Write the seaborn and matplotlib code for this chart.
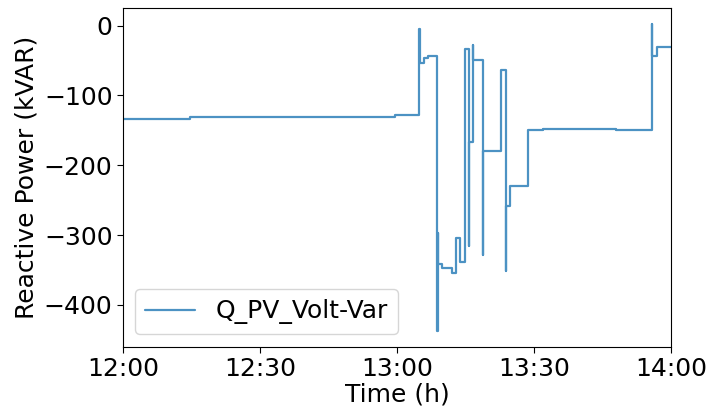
import numpy as np
import pandas as pd
import matplotlib
matplotlib.use("Agg")
import matplotlib.pyplot as plt
import matplotlib.dates as mdates
import seaborn as sns

# Breakpoints of the step-like reactive power series (time, kVAR)
times = [
    "12:00:00", "12:14:40", "12:59:40", "13:04:50", "13:04:56", "13:05:50",
    "13:06:50", "13:08:50", "13:08:56", "13:09:00", "13:09:03", "13:09:50",
    "13:12:00", "13:12:55", "13:13:50", "13:14:55", "13:15:48", "13:15:52",
    "13:16:35", "13:16:40", "13:18:48", "13:18:53", "13:22:48", "13:23:54",
    "13:23:58", "13:24:42", "13:28:45", "13:32:00", "13:42:00", "13:48:00",
    "13:55:48", "13:55:54", "13:56:54", "14:00:00",
]
values = [
    -133, -131, -128, -5, -53, -46,
    -43, -438, -297, -338, -342, -347,
    -354, -304, -338, -33, -316, -166,
    -27, -49, -328, -179, -64, -352,
    -259, -229, -150, -148, -148, -149,
    3, -43, -30, -30,
]
series_name = "Q_PV_Volt-Var"

df = pd.DataFrame({
    "time": pd.to_datetime(["2023-01-01 " + t for t in times]),
    "Q": values,
    "series": series_name,
})

sns.set_style("white", rc={"text.color": "black", "axes.labelcolor": "black",
                           "xtick.color": "black", "ytick.color": "black",
                           "axes.edgecolor": "black"})
plt.rcParams["font.family"] = ["DejaVu Sans"]

fig = plt.figure(figsize=(7.08, 4.09), dpi=100)
ax = fig.add_axes([0.1737, 0.152, 0.774, 0.828])

sns.lineplot(data=df, x="time", y="Q", hue="series", palette=["#1f77b4"],
             drawstyle="steps-post", linewidth=1.6, alpha=0.8, ax=ax,
             estimator=None)

ax.set_xlim(pd.Timestamp("2023-01-01 12:00"), pd.Timestamp("2023-01-01 14:00"))
ax.xaxis.set_major_locator(mdates.MinuteLocator(byminute=[0, 30]))
ax.xaxis.set_major_formatter(mdates.DateFormatter("%H:%M"))
ax.set_yticks([0, -100, -200, -300, -400])

fs = 18
ax.set_xlabel("Time (h)", fontsize=fs, labelpad=1)
ax.set_ylabel("Reactive Power (kVAR)", fontsize=fs, labelpad=4)
ax.tick_params(axis="both", labelsize=fs, length=4, width=0.8,
               bottom=True, left=True)
for s in ax.spines.values():
    s.set_linewidth(0.8)

leg = ax.legend(loc="lower left", fontsize=fs, frameon=True)
leg.set_title(None)

fig.savefig("out.png", dpi=100)
